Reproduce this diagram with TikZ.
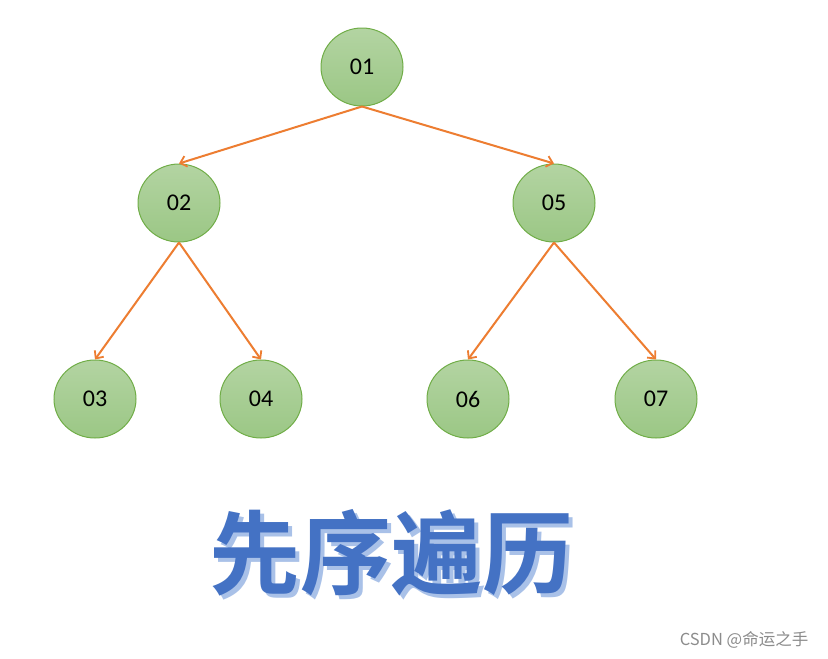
\documentclass[tikz,border=0pt]{standalone}
\usepackage{fontspec}
\setmainfont{Carlito}
\newfontfamily\cjk{Noto Sans CJK SC}
\newfontfamily\cjkb{Noto Sans CJK SC Bold}
\usetikzlibrary{shapes.geometric,arrows.meta}
\definecolor{edgeor}{HTML}{ED7D31}
\definecolor{nodebd}{HTML}{70AD47}
\definecolor{nodetop}{HTML}{B3D4A2}
\definecolor{nodebot}{HTML}{9BC785}
\definecolor{titleblue}{HTML}{4472C4}
\definecolor{titleshadow}{HTML}{A9C1E8}
\tikzset{
  treenode/.style={ellipse, draw=nodebd, line width=1pt, top color=nodetop, bottom color=nodebot,
    minimum width=82pt, minimum height=78pt, inner sep=0pt, font=\fontsize{24}{26}\selectfont},
  link/.style={draw=edgeor, line width=2pt, -{Straight Barb[length=6pt,width=11pt,line width=1.8pt]}},
  titletext/.style={font=\cjkb\fontsize{91}{95}\selectfont, inner sep=0pt},
}
\begin{document}
\begin{tikzpicture}[x=1pt,y=-1pt]
\useasboundingbox[fill=white] (0,0) rectangle (828,659);
\node[treenode] (n01) at (362,67) {01};
\node[treenode] (n02) at (179,203) {02};
\node[treenode] (n05) at (554,203) {05};
\node[treenode] (n03) at (95,399) {03};
\node[treenode] (n04) at (261,399) {04};
\node[treenode] (n06) at (468,399) {06};
\node[treenode] (n07) at (656,399) {07};
\draw[link] (n01.south) -- (n02.north);
\draw[link] (n01.south) -- (n05.north);
\draw[link] (n02.south) -- (n03.north);
\draw[link] (n02.south) -- (n04.north);
\draw[link] (n05.south) -- (n06.north);
\draw[link] (n05.south) -- (n07.north);
\node[titletext, text=titleshadow] (tshadow) at (395,557) {先序遍历};
\node[titletext, text=titleblue] (title) at (391,553) {先序遍历};
\node[font=\cjk\fontsize{16.5}{18}\selectfont, text=black!45, inner sep=0pt] (wm) at (744,640) {CSDN @命运之手};
\end{tikzpicture}
\end{document}
